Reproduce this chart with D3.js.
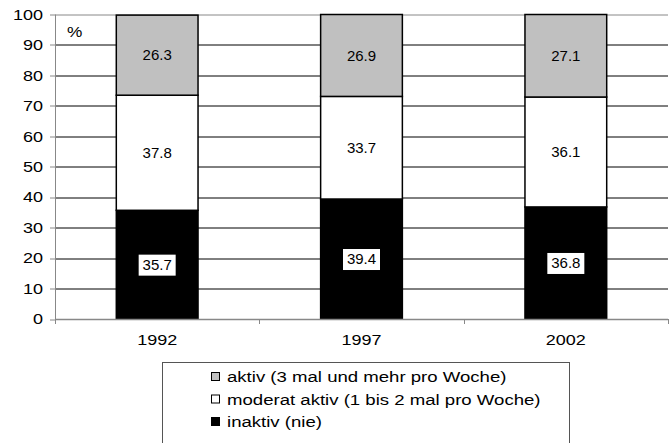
<!DOCTYPE html>
<html>
<head>
<meta charset="utf-8">
<script src="https://cdn.jsdelivr.net/npm/d3@7"></script>
<style>
  body { margin: 0; background: #fff; }
  text { font-family: "Liberation Sans", Arial, sans-serif; fill: #000; }
</style>
</head>
<body>
<div id="chart"></div>
<script>
// Stacked bars: physical activity by year
var years = ["1992", "1997", "2002"];
var inaktiv = [35.7, 39.4, 36.8];
var moderat = [37.8, 33.7, 36.1];
var aktiv = [26.3, 26.9, 27.1];
var yTicks = [0, 10, 20, 30, 40, 50, 60, 70, 80, 90, 100];
var seriesNames = ["aktiv (3 mal und mehr pro Woche)", "moderat aktiv (1 bis 2 mal pro Woche)", "inaktiv (nie)"];

(function() {
  var W = 669, H = 443;
  var margin = { top: 14.5, left: 55, right: 1, bottom: 124 };
  var width = W - margin.left - margin.right,
    height = H - margin.top - margin.bottom;

  var svg = d3.select("#chart").append("svg")
    .attr("width", W)
    .attr("height", H);

  var g = svg.append("g")
    .attr("transform", "translate(" + margin.left + "," + margin.top + ")");

  // the original picture is a bit stretched sideways, so text gets a small x-scale
  function stretched(sel, px, py, sx) {
    return sel.attr("transform", "translate(" + px + "," + py + ") scale(" + sx + ",1)")
  }

  var x = d3.scaleBand()
    .domain(years)
    .range([0, width])
    .paddingInner(0.6)
    .paddingOuter(0.3);

  var y = d3.scaleLinear()
    .domain([0, 100])
    .range([height, 0]);

  // gridlines
  g.selectAll(".grid")
    .data(yTicks.slice(1, -1))
    .enter().append("line")
    .attr("x1", 0).attr("x2", width)
    .attr("y1", function(d) { return Math.round(y(d)) + 0.5 })
    .attr("y2", function(d) { return Math.round(y(d)) + 0.5 })
    .attr("stroke", "#000")
    .attr("stroke-width", 1);

  // top border
  g.append("line")
    .attr("x1", 0).attr("x2", width)
    .attr("y1", 0.5).attr("y2", 0.5)
    .attr("stroke", "#888");

  // stacked data
  var rows = years.map(function(yr, i) {
    return { year: yr, inaktiv: inaktiv[i], moderat: moderat[i], aktiv: aktiv[i] };
  });
  var stack = d3.stack().keys(["inaktiv", "moderat", "aktiv"])(rows);
  var fills = { inaktiv: "#000", moderat: "#fff", aktiv: "#c0c0c0" };

  stack.forEach(function(layer) {
    g.selectAll(".bar-" + layer.key)
      .data(layer)
      .enter().append("rect")
      .attr("x", function(d) { return x(d.data.year) })
      .attr("y", function(d) { return y(d[1]) })
      .attr("width", x.bandwidth())
      .attr("height", function(d) { return y(d[0]) - y(d[1]) })
      .attr("fill", fills[layer.key])
      .attr("stroke", "#000")
      .attr("stroke-width", 1.5);
  });

  // value labels (white box behind the ones on black)
  stack.forEach(function(layer) {
    layer.forEach(function(d) {
      var cx = x(d.data.year) + x.bandwidth() / 2;
      var cy = y((d[0] + d[1]) / 2);
      var label = d.data[layer.key].toFixed(1);
      if (layer.key === "inaktiv") {
        g.append("rect")
          .attr("x", cx - 18.5)
          .attr("y", cy - 10)
          .attr("width", 37)
          .attr("height", 21)
          .attr("fill", "#fff");
      }
      g.append("text")
        .attr("x", cx)
        .attr("y", cy)
        .attr("dy", "0.35em")
        .attr("text-anchor", "middle")
        .attr("font-size", 15)
        .text(label);
    });
  });

  // y axis
  g.append("line")
    .attr("x1", 0.5).attr("x2", 0.5)
    .attr("y1", 0).attr("y2", height)
    .attr("stroke", "#888");
  g.selectAll(".ytick")
    .data(yTicks)
    .enter().append("line")
    .attr("x1", -5).attr("x2", 0)
    .attr("y1", function(d) { return Math.round(y(d)) + 0.5 })
    .attr("y2", function(d) { return Math.round(y(d)) + 0.5 })
    .attr("stroke", "#888");
  g.selectAll(".ylabel")
    .data(yTicks)
    .enter().append("text")
    .each(function(d) { stretched(d3.select(this), -12, y(d), 1.2) })
    .attr("dy", "0.35em")
    .attr("text-anchor", "end")
    .attr("font-size", 15)
    .text(function(d) { return d });

  // x axis, ticks between the categories
  g.append("line")
    .attr("x1", 0).attr("x2", width)
    .attr("y1", height + 0.5).attr("y2", height + 0.5)
    .attr("stroke", "#888")
    .attr("stroke-width", 1.5);
  var bounds = d3.range(years.length + 1).map(function(i) { return i * width / years.length });
  g.selectAll(".xtick")
    .data(bounds)
    .enter().append("line")
    .attr("x1", function(d) { return Math.round(d) + 0.5 })
    .attr("x2", function(d) { return Math.round(d) + 0.5 })
    .attr("y1", height).attr("y2", height + 5)
    .attr("stroke", "#888");
  g.selectAll(".xlabel")
    .data(years)
    .enter().append("text")
    .each(function(d) { stretched(d3.select(this), x(d) + x.bandwidth() / 2, height + 21, 1.2) })
    .attr("dy", "0.35em")
    .attr("text-anchor", "middle")
    .attr("font-size", 15)
    .text(function(d) { return d });

  // % label
  stretched(g.append("text"), 12, 22, 1.15)
    .attr("font-size", 15)
    .text("%");

  // legend
  var legend = svg.append("g").attr("transform", "translate(162,362)");
  legend.append("rect")
    .attr("x", 0.5).attr("y", 0.5)
    .attr("width", 407).attr("height", 100)
    .attr("fill", "#fff")
    .attr("stroke", "#555");
  var legendFills = ["#c0c0c0", "#fff", "#000"];
  seriesNames.forEach(function(name, i) {
    var yy = 15 + i * 22.5;
    legend.append("rect")
      .attr("x", 49.5).attr("y", yy - 4.5)
      .attr("width", 8).attr("height", 8)
      .attr("fill", legendFills[i])
      .attr("stroke", "#000")
      .attr("stroke-width", 1);
    stretched(legend.append("text"), 65, yy, 1.24)
      .attr("dy", "0.35em")
      .attr("font-size", 15)
      .text(name);
  });
})();
</script>
</body>
</html>
